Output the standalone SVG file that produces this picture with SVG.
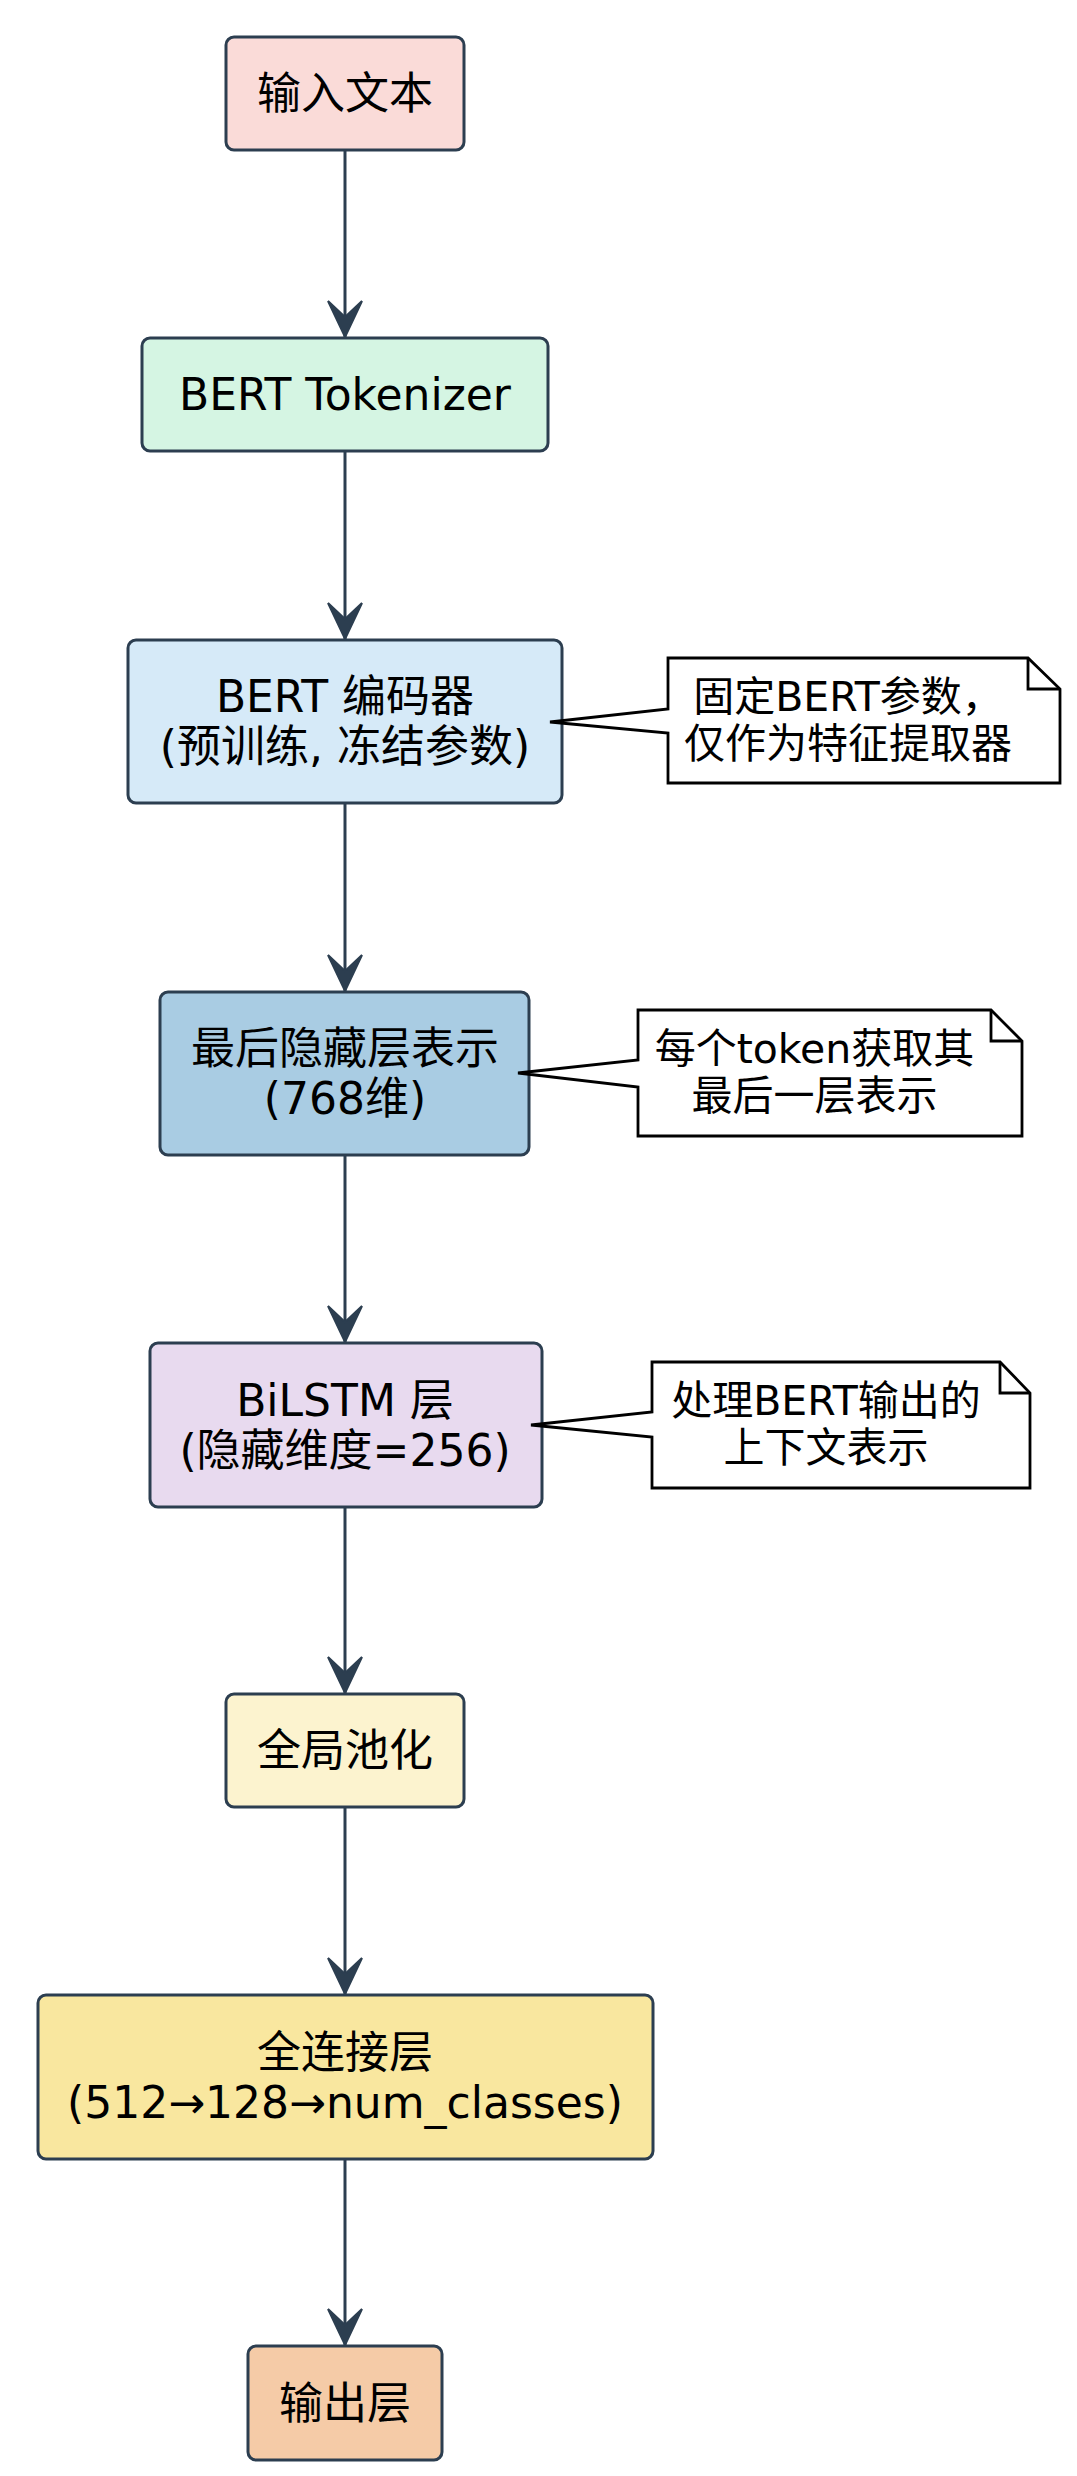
<svg xmlns="http://www.w3.org/2000/svg" width="1077" height="2476" viewBox="0 0 1077 2476">
  <style>
    .node { stroke: #2c3e50; stroke-width: 3; }
    .t { font-family: "DejaVu Sans", "Noto Sans CJK SC", sans-serif; font-size: 44px; fill: #000; text-anchor: middle; }
    .nt { font-family: "DejaVu Sans", "Noto Sans CJK SC", sans-serif; font-size: 41px; fill: #000; text-anchor: middle; }
    .note { fill: #fff; stroke: #000; stroke-width: 2.8; stroke-linejoin: miter; }
    .fold { fill: none; stroke: #000; stroke-width: 2.8; }
    .edge { stroke: #2c3e50; stroke-width: 3; fill: none; }
  </style>
  <defs>
    <marker id="arr" markerUnits="userSpaceOnUse" markerWidth="44" markerHeight="44" viewBox="-41 -22 44 44" refX="0" refY="0" orient="auto">
      <path d="M0,0 L-36,-17 L-20,0 L-36,17 Z" fill="#2c3e50" stroke="#2c3e50" stroke-width="2" stroke-linejoin="miter"/>
    </marker>
  </defs>
  <rect width="1077" height="2476" fill="#ffffff"/>

  <g id="connectors">
    <line class="edge" x1="345" y1="150" x2="345" y2="337" marker-end="url(#arr)"/>
    <line class="edge" x1="345" y1="451" x2="345" y2="639" marker-end="url(#arr)"/>
    <line class="edge" x1="345" y1="803" x2="345" y2="991" marker-end="url(#arr)"/>
    <line class="edge" x1="345" y1="1155" x2="345" y2="1342" marker-end="url(#arr)"/>
    <line class="edge" x1="345" y1="1507" x2="345" y2="1693" marker-end="url(#arr)"/>
    <line class="edge" x1="345" y1="1807" x2="345" y2="1994" marker-end="url(#arr)"/>
    <line class="edge" x1="345" y1="2159" x2="345" y2="2345" marker-end="url(#arr)"/>
  </g>

  <g id="n1">
    <rect class="node" x="226" y="37" width="238" height="113" rx="8" fill="#fadbd8"/>
    <text class="t" x="345" y="109">输入文本</text>
  </g>
  <g id="n2">
    <rect class="node" x="142" y="338" width="406" height="113" rx="8" fill="#d5f5e3"/>
    <text class="t" x="345" y="410">BERT Tokenizer</text>
  </g>
  <g id="n3">
    <rect class="node" x="128" y="640" width="434" height="163" rx="8" fill="#d6eaf8"/>
    <text class="t" x="345" y="712">BERT 编码器</text>
    <text class="t" x="345" y="762">(预训练, 冻结参数)</text>
  </g>
  <g id="n4">
    <rect class="node" x="160" y="992" width="369" height="163" rx="8" fill="#a9cce3"/>
    <text class="t" x="345" y="1064">最后隐藏层表示</text>
    <text class="t" x="345" y="1114">(768维)</text>
  </g>
  <g id="n5">
    <rect class="node" x="150" y="1343" width="392" height="164" rx="8" fill="#e8daef"/>
    <text class="t" x="345" y="1415.5">BiLSTM 层</text>
    <text class="t" x="345" y="1465.5">(隐藏维度=256)</text>
  </g>
  <g id="n6">
    <rect class="node" x="226" y="1694" width="238" height="113" rx="8" fill="#fcf3cf"/>
    <text class="t" x="345" y="1766">全局池化</text>
  </g>
  <g id="n7">
    <rect class="node" x="38" y="1995" width="615" height="164" rx="8" fill="#f9e79f"/>
    <text class="t" x="345" y="2067.5">全连接层</text>
    <text class="t" x="345" y="2117.5">(512→128→num_classes)</text>
  </g>
  <g id="n8">
    <rect class="node" x="248" y="2346" width="194" height="114" rx="8" fill="#f5cba7"/>
    <text class="t" x="345" y="2418.5">输出层</text>
  </g>

  <g id="note1">
    <path class="note" d="M668,658 L1028,658 L1060,689 L1060,783 L668,783 L668,733 L550,722 L668,709 Z"/>
    <path class="fold" d="M1028,658 L1028,689 L1060,689"/>
    <text class="nt" x="848" y="711">固定BERT参数，</text>
    <text class="nt" x="848" y="758">仅作为特征提取器</text>
  </g>
  <g id="note2">
    <path class="note" d="M638,1010 L991,1010 L1022,1041 L1022,1136 L638,1136 L638,1087 L518,1073 L638,1060 Z"/>
    <path class="fold" d="M991,1010 L991,1041 L1022,1041"/>
    <text class="nt" x="814.5" y="1063">每个token获取其</text>
    <text class="nt" x="814.5" y="1110">最后一层表示</text>
  </g>
  <g id="note3">
    <path class="note" d="M652,1362 L1000,1362 L1030,1393 L1030,1488 L652,1488 L652,1437 L531,1425 L652,1412 Z"/>
    <path class="fold" d="M1000,1362 L1000,1393 L1030,1393"/>
    <text class="nt" x="826" y="1415">处理BERT输出的</text>
    <text class="nt" x="826" y="1462">上下文表示</text>
  </g>
</svg>
